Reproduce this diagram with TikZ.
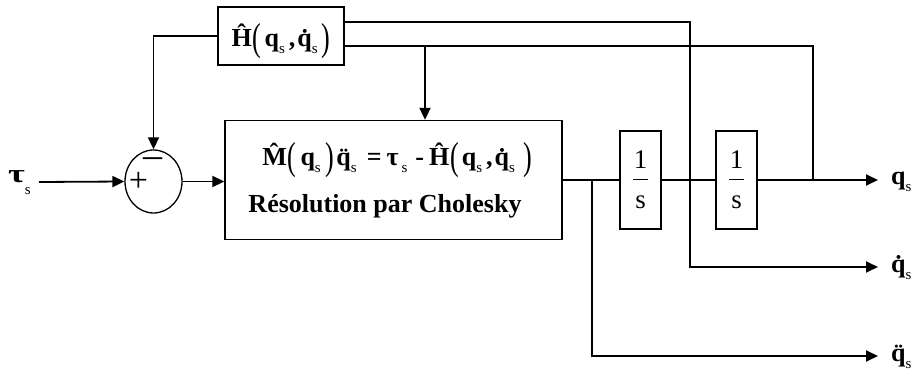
\documentclass[tikz,border=0pt]{standalone}
\usepackage{fontspec}
\setmainfont{Liberation Serif}
\usepackage{graphicx}
\usetikzlibrary{arrows.meta,shapes.geometric}
\newcommand{\ssub}{\raisebox{-7pt}{\fontsize{15}{15}\selectfont\mdseries s}}
\newcommand{\lpar}{\raisebox{-3.5pt}{\scalebox{1}[1.5]{\mdseries(}}}
\newcommand{\rpar}{\raisebox{-3.5pt}{\scalebox{1}[1.5]{\mdseries)}}}
\tikzset{
  blk/.style={draw, line width=1.3pt, rectangle, inner sep=0pt},
  txt/.style={font=\fontsize{26}{30}\selectfont\bfseries, inner sep=0pt},
  reg/.style={font=\fontsize{27}{30}\selectfont, inner sep=0pt},
  outlbl/.style={font=\fontsize{26}{30}\selectfont\bfseries, inner xsep=13pt, inner ysep=0pt, anchor=base west},
  wire/.style={line width=1.8pt},
  arr/.style={wire, -{Triangle[length=12pt,width=11pt]}},
  sumnode/.style={draw, ellipse, line width=1.3pt, minimum width=57pt, minimum height=63pt, inner sep=0pt}
}
\begin{document}
\begin{tikzpicture}[x=1pt,y=-1pt]
\useasboundingbox (0,0) rectangle (914,374);
% blocks
\node[blk, minimum width=126pt, minimum height=58pt] (H) at (281,36) {};
\node[txt, anchor=base] (Ht) at (281,47) {\^{H}\hspace{1pt}\lpar\hspace{3pt}q\ssub\hspace{4pt},\hspace{2pt}\.{q}\ssub\hspace{4pt}\rpar};
\node[sumnode] (sum) at (153.5,181.5) {};
\node[font=\fontsize{34}{34}\selectfont, inner sep=0pt] (plus) at (138.5,182) {+};
\node[font=\fontsize{38}{38}\selectfont, inner sep=0pt] (minus) at (152.5,163) {–};
\node[blk, minimum width=337pt, minimum height=119pt] (main) at (393.5,180) {};
\node[txt, anchor=base] (eq) at (397,166) {\^{M}\hspace{1pt}\lpar\hspace{4pt}q\ssub\hspace{5pt}\rpar\hspace{2pt}\"{q}\ssub\hspace{10pt}=\hspace{5pt}τ\hspace{3pt}\ssub\hspace{8pt}-\hspace{5pt}\^{H}\hspace{1pt}\lpar\hspace{3pt}q\ssub\hspace{4pt},\hspace{2pt}\.{q}\ssub\hspace{8pt}\rpar};
\node[txt, anchor=base] (chol) at (385,213) {Résolution par Cholesky};
\node[blk, minimum width=41pt, minimum height=98pt] (I1) at (640.5,180) {};
\node[reg, anchor=base] (one1) at (640.5,169) {1};
\node[reg, anchor=base] (s1) at (640.5,209) {s};
\draw[line width=1pt] (633,180) -- (648,180);
\node[blk, minimum width=41pt, minimum height=98pt] (I2) at (736.5,180) {};
\node[reg, anchor=base] (one2) at (736.5,169) {1};
\node[reg, anchor=base] (s2) at (736.5,209) {s};
\draw[line width=1pt] (729,180) -- (744,180);
% labels
\node[txt, anchor=base west] (tau) at (8,183) {\scalebox{1.4}[1]{τ}\raisebox{-5pt}{\ssub}};
\node[outlbl] (qo) at (878,185) {q\ssub};
\node[outlbl] (qdo) at (878,273) {\.{q}\ssub};
\node[outlbl] (qddo) at (878,362) {\"{q}\ssub};
% coordinates
\coordinate (qdtap) at (690,267);
\coordinate (qjoin) at (813,180);
\coordinate (htap) at (425,46);
\coordinate (qddtap) at (592,180);
\coordinate (qddcorner) at (592,356);
% wires
\draw[arr] (39,182) coordinate (tauin) -- (sum.west);
\draw[arr] (sum.east) -- (sum.east -| main.west);
\draw[arr] (H.west) -| (sum.north);
\draw[arr] ([yshift=14pt]H.east) -| (qdtap) -- (qdtap -| qdo.west);
\draw[wire] ([yshift=-10pt]H.east) -| (qjoin);
\draw[arr] (htap) -- (htap |- main.north);
\draw[wire] (main.east) -- (I1.west);
\draw[arr] (qddtap) -- (qddcorner) -- (qddcorner -| qddo.west);
\draw[wire] (I1.east) -- (I2.west);
\draw[arr] (I2.east) -- (I2.east -| qo.west);
\end{tikzpicture}
\end{document}
